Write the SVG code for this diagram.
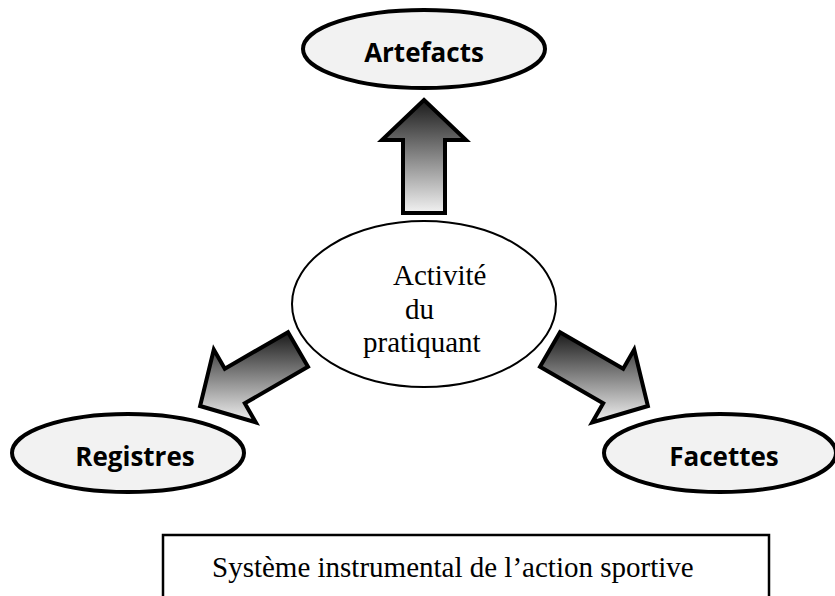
<svg xmlns="http://www.w3.org/2000/svg" width="835" height="596" viewBox="0 0 835 596">
  <defs>
    <linearGradient id="arrowGrad" x1="0" y1="0" x2="0" y2="1">
      <stop offset="0" stop-color="#1a1a1a"/>
      <stop offset="1" stop-color="#f2f2f2"/>
    </linearGradient>
  </defs>
  <style>
    .outer { fill: #f2f2f2; stroke: #000; stroke-width: 4; }
    .center { fill: #fff; stroke: #000; stroke-width: 2; }
    .label { font-family: "Open Sans", "Liberation Sans", sans-serif; font-weight: bold; font-size: 26px; fill: #000; text-anchor: middle; }
    .serif { font-family: "Liberation Serif", "Times New Roman", serif; font-size: 29px; fill: #000; }
    .arrow { fill: url(#arrowGrad); stroke: #000; stroke-width: 4; stroke-linejoin: miter; }
    .frame { fill: none; stroke: #000; stroke-width: 2.5; }
  </style>
  <rect width="835" height="596" fill="#fff"/>

  <g id="connectors">
    <polygon class="arrow" points="424,100 466,140 445,140 445,213 403,213 403,140 382,140"/>
    <polygon class="arrow" points="288,332.2 224.8,368.7 213.8,349.6 200.1,406 255.8,422.4 244.8,403.3 308,366.8"/>
    <polygon class="arrow" points="560,332.2 623.2,368.7 634.2,349.6 647.9,406 592.2,422.4 603.2,403.3 540,366.8"/>
  </g>

  <g id="artefacts">
    <ellipse class="outer" cx="424" cy="49" rx="121" ry="39"/>
    <text class="label" x="424" y="62">Artefacts</text>
  </g>

  <g id="activite">
    <ellipse class="center" cx="424" cy="304" rx="132" ry="83"/>
    <text class="serif" x="393" y="285">Activité</text>
    <text class="serif" x="405" y="319">du</text>
    <text class="serif" x="363" y="352">pratiquant</text>
  </g>

  <g id="registres">
    <ellipse class="outer" cx="128" cy="453" rx="116" ry="39"/>
    <text class="label" x="135" y="466">Registres</text>
  </g>

  <g id="facettes">
    <ellipse class="outer" cx="720" cy="453" rx="116" ry="39"/>
    <text class="label" x="724" y="466">Facettes</text>
  </g>

  <g id="caption">
    <rect class="frame" x="163" y="535" width="606" height="70"/>
    <text class="serif" x="212" y="577">Système instrumental de l’action sportive</text>
  </g>
</svg>
